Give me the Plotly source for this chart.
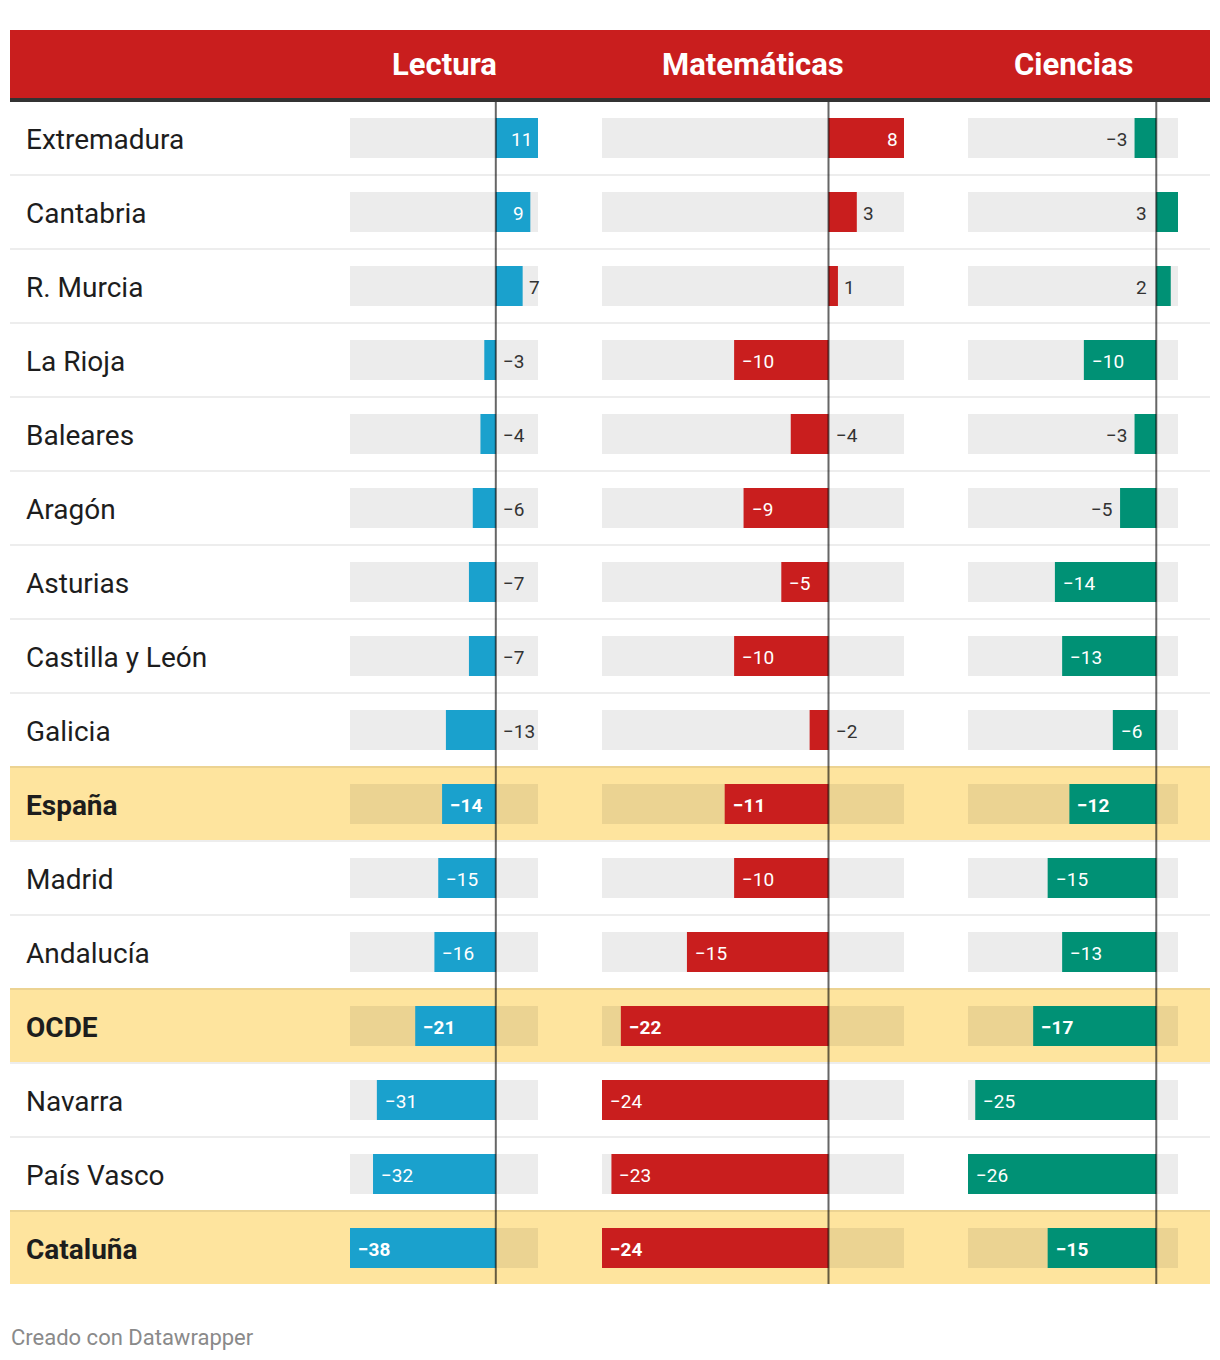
import plotly.graph_objects as go

# ---------------- data ----------------
regions = ["Extremadura", "Cantabria", "R. Murcia", "La Rioja", "Baleares", "Aragón",
           "Asturias", "Castilla y León", "Galicia", "España", "Madrid", "Andalucía",
           "OCDE", "Navarra", "País Vasco", "Cataluña"]
lectura = [11, 9, 7, -3, -4, -6, -7, -7, -13, -14, -15, -16, -21, -31, -32, -38]
matematicas = [8, 3, 1, -10, -4, -9, -5, -10, -2, -11, -10, -15, -22, -24, -23, -24]
ciencias = [-3, 3, 2, -10, -3, -5, -14, -13, -6, -12, -15, -13, -17, -25, -26, -15]
highlighted = ["España", "OCDE", "Cataluña"]
headers = ["Lectura", "Matemáticas", "Ciencias"]
footer = "Creado con Datawrapper"

# ---------------- layout constants ----------------
W, H = 1220, 1360
FONT = "Roboto"
ROW_PITCH = 74
FIRST_CENTER = 138
BAR_H = 40
TABLE_L, TABLE_R = 10, 1210
HEADER_TOP, HEADER_BOT, HEADER_LINE = 30, 98, 102
TABLE_BOTTOM = HEADER_LINE - 2 + ROW_PITCH * len(regions)

columns = [
    dict(name=headers[0], values=lectura, color="#1aa1cd", dom=(350, 538), ax="x"),
    dict(name=headers[1], values=matematicas, color="#c91e1e", dom=(602, 904), ax="x2"),
    dict(name=headers[2], values=ciencias, color="#009175", dom=(968, 1178), ax="x3"),
]


def pp(px):
    return 1 - px / H


def px_x(px):
    return px / W


def row_center(i):
    return FIRST_CENTER + ROW_PITCH * i


fig = go.Figure()
shapes = []
annotations = []

# header band
shapes.append(dict(type="rect", xref="paper", yref="paper", x0=px_x(TABLE_L), x1=px_x(TABLE_R),
                   y0=pp(HEADER_BOT), y1=pp(HEADER_TOP), fillcolor="#c91e1e", line_width=0, layer="below"))
shapes.append(dict(type="rect", xref="paper", yref="paper", x0=px_x(TABLE_L), x1=px_x(TABLE_R),
                   y0=pp(HEADER_LINE), y1=pp(HEADER_BOT), fillcolor="#333333", line_width=0, layer="below"))

# highlighted rows
for i, r in enumerate(regions):
    if r in highlighted:
        top = row_center(i) - 38
        shapes.append(dict(type="rect", xref="paper", yref="paper", x0=px_x(TABLE_L), x1=px_x(TABLE_R),
                           y0=pp(top + ROW_PITCH), y1=pp(top), fillcolor="#fee49e", line_width=0,
                           layer="below"))
# separators
for i in range(len(regions) - 1):
    y = row_center(i) + 36
    shapes.append(dict(type="rect", xref="paper", yref="paper", x0=px_x(TABLE_L), x1=px_x(TABLE_R),
                       y0=pp(y + 2), y1=pp(y), fillcolor="rgba(0,0,0,0.07)", line_width=0,
                       layer="below"))

bar_w = BAR_H / ROW_PITCH
bold_rows = [r in highlighted for r in regions]


def label_text(v, bold):
    s = ("\u2212" if v < 0 else "") + str(abs(v))
    return f"<b>{s}</b>" if bold else s


def text_px(v, bold):
    d = len(str(abs(v)))
    return d * (11.2 if bold else 10.7) + (9.5 if v < 0 else 0)


layout_axes = {}
for k, c in enumerate(columns):
    vals = c["values"]
    lo, hi = min(vals), max(vals)
    d0, d1 = c["dom"]
    axname = "xaxis" if k == 0 else f"xaxis{k + 1}"
    layout_axes[axname] = dict(domain=[px_x(d0), px_x(d1)], range=[lo, hi], visible=False,
                               anchor="y", fixedrange=True)
    # background bars
    fig.add_trace(go.Bar(y=regions, x=[hi - lo] * len(regions), base=[lo] * len(regions),
                         orientation="h", width=bar_w, marker=dict(color="rgba(0,0,0,0.075)", line_width=0),
                         xaxis=c["ax"], yaxis="y", hoverinfo="skip"))
    # value bars
    fig.add_trace(go.Bar(y=regions, x=vals, orientation="h", width=bar_w,
                         marker=dict(color=c["color"], line_width=0),
                         xaxis=c["ax"], yaxis="y", hoverinfo="skip"))
    # zero line
    shapes.append(dict(type="line", xref=c["ax"], yref="paper", x0=0, x1=0,
                       y0=pp(TABLE_BOTTOM), y1=pp(HEADER_LINE),
                       line=dict(color="rgba(0,0,0,0.6)", width=2), layer="above"))
    # header
    annotations.append(dict(xref="paper", yref="paper", x=px_x((d0 + d1) / 2),
                            y=pp((HEADER_TOP + HEADER_BOT) / 2), text=f"<b>{c['name']}</b>",
                            showarrow=False, xanchor="center", yanchor="middle",
                            font=dict(family=FONT, size=31, color="white")))
    # value labels
    ppu = (d1 - d0) / (hi - lo)
    for i, v in enumerate(vals):
        b = bold_rows[i]
        tw = text_px(v, b)
        bar_px = abs(v) * ppu
        if bar_px >= tw + 20:
            col = "white"
            if v > 0:
                x, xa, xs = v, "right", -4
            else:
                x, xa, xs = v, "left", 6
        else:
            col = "#333333"
            if v > 0:
                room = (hi - v) * ppu
                if room >= tw + 4:
                    x, xa, xs = v, "left", 4
                else:
                    x, xa, xs = 0, "right", -7
            else:
                room = hi * ppu
                if room >= tw + 4:
                    x, xa, xs = 0, "left", 5
                else:
                    x, xa, xs = v, "right", -5
        annotations.append(dict(xref=c["ax"], yref="y", x=x, y=regions[i], text=label_text(v, b),
                                showarrow=False, xanchor=xa, yanchor="middle", xshift=xs, yshift=-1,
                                font=dict(family=FONT, size=19, color=col)))

# row labels
for i, r in enumerate(regions):
    txt = f"<b>{r}</b>" if bold_rows[i] else r
    annotations.append(dict(xref="paper", yref="y", x=px_x(24), y=r, text=txt, showarrow=False,
                            xanchor="left", yanchor="middle", yshift=-1,
                            font=dict(family=FONT, size=28, color="#1d1d1d")))

# footer
annotations.append(dict(xref="paper", yref="paper", x=px_x(9), y=pp(1337), text=footer,
                        showarrow=False, xanchor="left", yanchor="middle",
                        font=dict(family=FONT, size=22, color="#8a8a8a")))

y_top = -FIRST_CENTER / ROW_PITCH
y_bot = (H - FIRST_CENTER) / ROW_PITCH

fig.update_layout(
    width=W, height=H,
    margin=dict(l=0, r=0, t=0, b=0, pad=0),
    paper_bgcolor="white", plot_bgcolor="rgba(0,0,0,0)",
    barmode="overlay", showlegend=False,
    yaxis=dict(domain=[0, 1], type="category", categoryorder="array", categoryarray=regions,
               range=[y_bot, y_top], visible=False, fixedrange=True),
    shapes=shapes, annotations=annotations,
    font=dict(family=FONT),
    **layout_axes,
)

fig.write_html("out.html", config={"displayModeBar": False})
